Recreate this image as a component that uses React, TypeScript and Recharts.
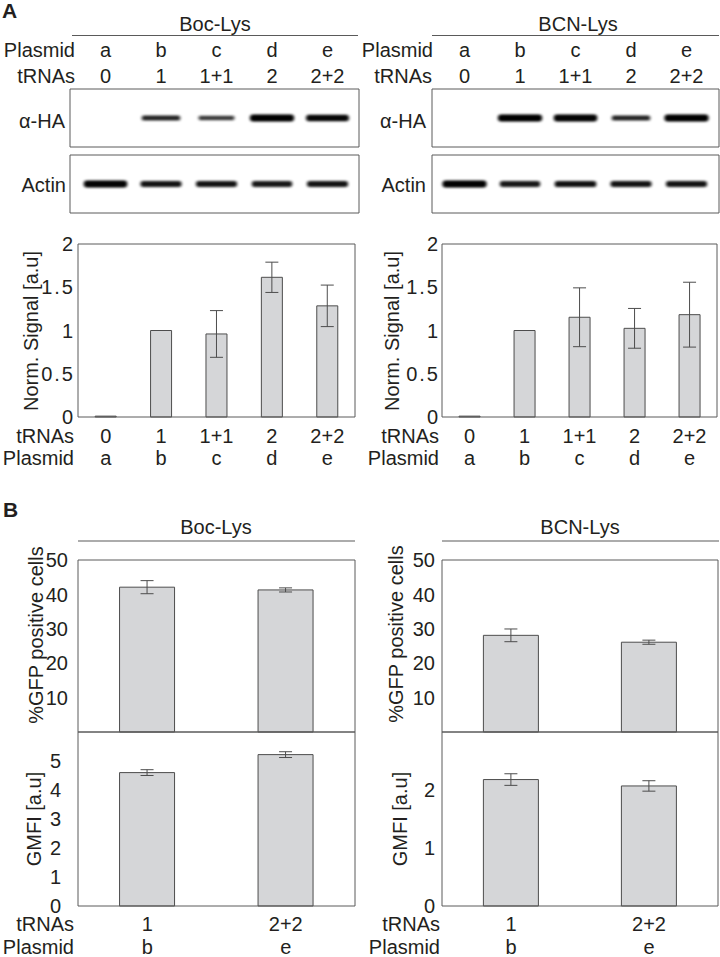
import React from 'react';
import { BarChart, Bar, XAxis, YAxis, ErrorBar, ComposedChart, Scatter } from 'recharts';

const FONT = '"Liberation Sans", Arial, Helvetica, sans-serif';
const TEXT = '#231f20';
const AXIS = '#5a5a5a';
const BAR_FILL = '#d5d6d8';
const BAR_STROKE = '#4d4d4d';

// ---------- Panel A ----------
const lanes = ['a', 'b', 'c', 'd', 'e'];
const laneTrnas = ['0', '1', '1+1', '2', '2+2'];
const bocHaSignal = [0, 0.55, 0.35, 1.0, 0.9];
const bocActinSignal = [0.95, 0.75, 0.75, 0.7, 0.75];
const bcnHaSignal = [0, 1.0, 0.95, 0.55, 1.0];
const bcnActinSignal = [1.0, 0.7, 0.8, 0.75, 0.75];

const bocNormSignal = [0.01, 1.0, 0.96, 1.615, 1.285];
const bocNormErr = [0, 0, 0.27, 0.175, 0.24];
const bcnNormSignal = [0.01, 1.0, 1.153, 1.025, 1.183];
const bcnNormErr = [0, 0, 0.34, 0.23, 0.375];
const normTicks = [0, 0.5, 1, 1.5, 2];

// ---------- Panel B ----------
const bLanes = ['b', 'e'];
const bTrnas = ['1', '2+2'];
const bocGfp = [42.1, 41.3];
const bocGfpErr = [1.9, 0.6];
const bcnGfp = [28.1, 26.1];
const bcnGfpErr = [1.85, 0.6];
const bocGmfi = [4.6, 5.22];
const bocGmfiErr = [0.1, 0.1];
const bcnGmfi = [2.18, 2.07];
const bcnGmfiErr = [0.1, 0.09];
const gfpTicks = [10, 20, 30, 40, 50];
const bocGmfiTicks = [0, 1, 2, 3, 4, 5];
const bcnGmfiTicks = [0, 1, 2];

const blotData = (signal: number[]) => lanes.map((l, i) => ({ lane: l, y: 1, signal: signal[i] }));
const barData = (cats: string[], vals: number[], errs: number[]) =>
  cats.map((c, i) => ({ lane: c, value: vals[i], err: errs[i] }));

const makeLaneTick = (cats: string[], trnas: string[], top: boolean, o1: number, o2: number) => (p: any) => {
  const idx = cats.indexOf(p.payload.value);
  const first = top ? cats[idx] : trnas[idx];
  const second = top ? trnas[idx] : cats[idx];
  return (
    <g>
      <text x={p.x} y={p.y + o1} textAnchor="middle" fontSize={20} fill={TEXT} fontFamily={FONT}>{first}</text>
      <text x={p.x} y={p.y + o2} textAnchor="middle" fontSize={20} fill={TEXT} fontFamily={FONT}>{second}</text>
    </g>
  );
};

const BandShape = (props: any) => {
  const { cx, cy, payload } = props;
  const s = payload ? payload.signal : 0;
  if (!s || cx == null) return <g />;
  const w = 34 + 12 * s;
  const h = 2.5 + 4 * s;
  return (
    <g filter="url(#blotBlur)">
      <rect x={cx - w / 2} y={cy - h / 2 - 0.5} width={w} height={h + 1} rx={(h + 1) / 2} fill="#000" opacity={0.25 + 0.3 * s} />
      <rect x={cx - w / 2 + 2} y={cy - h / 2} width={w - 4} height={h} rx={h / 2} fill="#000" opacity={0.45 + 0.55 * s} />
    </g>
  );
};

function Blot({ left, top, width, height, margin, padding, signal, labels }: any) {
  return (
    <div style={{ position: 'absolute', left, top }}>
      <ComposedChart width={width} height={height} data={blotData(signal)} margin={margin}>
        <XAxis dataKey="lane" padding={padding} mirror tick={false} tickLine={false} axisLine={{ stroke: AXIS }} height={1} />
        <XAxis xAxisId="top" orientation="top" mirror dataKey="lane" padding={padding}
          tick={labels ? makeLaneTick(lanes, laneTrnas, true, -32, -6) : false}
          tickLine={false} axisLine={{ stroke: AXIS }} height={1} interval={0} tickSize={0} tickMargin={0} />
        <YAxis type="number" domain={[0, 2]} mirror tick={false} tickLine={false} axisLine={{ stroke: AXIS }} width={1} />
        <YAxis yAxisId="r" orientation="right" mirror type="number" domain={[0, 2]} tick={false} tickLine={false} axisLine={{ stroke: AXIS }} width={1} />
        <Scatter dataKey="y" shape={BandShape} isAnimationActive={false} />
      </ComposedChart>
    </div>
  );
}

function BarPanel({ left, top, width, height, margin, data, domain, ticks, tickGap, gap, laneTick, nCat, spacing = 0 }: any) {
  const bounds = Array.from({ length: nCat - 1 }, (_, i) => i + 1);
  const yTick = { fontSize: 20, fill: TEXT, fontFamily: FONT, letterSpacing: spacing };
  return (
    <div style={{ position: 'absolute', left, top }}>
      <BarChart width={width} height={height} data={data} margin={margin} barCategoryGap={gap}>
        <XAxis dataKey="lane" mirror tick={laneTick || false} tickLine={false} axisLine={{ stroke: AXIS }}
          height={1} interval={0} tickSize={0} tickMargin={0} />
        <XAxis xAxisId="top" orientation="top" mirror dataKey="lane" tick={false} tickLine={false}
          axisLine={{ stroke: AXIS }} height={1} />
        <XAxis xAxisId="bt" type="number" domain={[0, nCat]} ticks={bounds} orientation="bottom" mirror
          height={1} tickSize={4} tick={false} axisLine={false} tickLine={{ stroke: AXIS }} allowDataOverflow />
        <XAxis xAxisId="tt" type="number" domain={[0, nCat]} ticks={bounds} orientation="top" mirror
          height={1} tickSize={4} tick={false} axisLine={false} tickLine={{ stroke: AXIS }} allowDataOverflow />
        <YAxis yAxisId="l" type="number" domain={domain} ticks={ticks} interval={0} tick={yTick}
          tickLine={false} tickSize={0} tickMargin={tickGap} axisLine={{ stroke: AXIS }} width={60} />
        <YAxis yAxisId="li" type="number" domain={domain} ticks={ticks} interval={0} mirror tickSize={4}
          tick={false} axisLine={false} tickLine={{ stroke: AXIS }} width={1} allowDataOverflow />
        <YAxis yAxisId="r" orientation="right" type="number" domain={domain} ticks={ticks} interval={0} mirror
          tickSize={4} tick={false} axisLine={{ stroke: AXIS }} tickLine={{ stroke: AXIS }} width={1} allowDataOverflow />
        <Bar yAxisId="l" dataKey="value" fill={BAR_FILL} stroke={BAR_STROKE} strokeWidth={1} isAnimationActive={false}>
          <ErrorBar dataKey="err" width={6.5} stroke={BAR_STROKE} strokeWidth={1} />
        </Bar>
      </BarChart>
    </div>
  );
}

const T = (props: any) => (
  <text fontSize={20} fill={TEXT} fontFamily={FONT} {...props} />
);

export default function App() {
  return (
    <div style={{ position: 'absolute', left: 0, top: 0, width: 720, height: 957, background: '#fff', overflow: 'hidden', fontFamily: FONT }}>
      <svg width={0} height={0} style={{ position: 'absolute' }}>
        <defs>
          <filter id="blotBlur" x="-20%" y="-150%" width="140%" height="400%">
            <feGaussianBlur stdDeviation="0.8" />
          </filter>
        </defs>
      </svg>

      {/* Panel A blots (lanes on a point scale, padded to the lane centres) */}
      <Blot left={0} top={0} width={362} height={150} margin={{ top: 89, right: 3, bottom: 3, left: 70 }}
        padding={{ left: 35.5, right: 31.5 }} signal={bocHaSignal} labels />
      <Blot left={0} top={150} width={362} height={66} margin={{ top: 5, right: 3, bottom: 3, left: 70 }}
        padding={{ left: 35.5, right: 31.5 }} signal={bocActinSignal} />
      <Blot left={360} top={0} width={360} height={150} margin={{ top: 89, right: 1, bottom: 3, left: 72 }}
        padding={{ left: 32.5, right: 32.5 }} signal={bcnHaSignal} labels />
      <Blot left={360} top={150} width={360} height={66} margin={{ top: 5, right: 1, bottom: 3, left: 72 }}
        padding={{ left: 32.5, right: 32.5 }} signal={bcnActinSignal} />

      {/* Panel A bar charts */}
      <BarPanel left={0} top={224} width={362} height={256} margin={{ top: 20, right: 7, bottom: 63, left: 18 }}
        data={barData(lanes, bocNormSignal, bocNormErr)} domain={[0, 2]} ticks={normTicks} tickGap={3} gap="31%"
        laneTick={makeLaneTick(lanes, laneTrnas, false, 26, 48)} nCat={5} spacing={2} />
      <BarPanel left={360} top={224} width={360} height={256} margin={{ top: 20, right: 3, bottom: 63, left: 22 }}
        data={barData(lanes, bcnNormSignal, bcnNormErr)} domain={[0, 2]} ticks={normTicks} tickGap={2} gap="31%"
        laneTick={makeLaneTick(lanes, laneTrnas, false, 26, 48)} nCat={5} spacing={2} />

      {/* Panel B bar charts */}
      <BarPanel left={0} top={540} width={362} height={200} margin={{ top: 20, right: 7, bottom: 8, left: 18 }}
        data={barData(bLanes, bocGfp, bocGfpErr)} domain={[0, 50]} ticks={gfpTicks} tickGap={10} gap="30%" nCat={2} />
      <BarPanel left={0} top={722} width={362} height={235} margin={{ top: 10, right: 7, bottom: 51, left: 18 }}
        data={barData(bLanes, bocGmfi, bocGmfiErr)} domain={[0, 6]} ticks={bocGmfiTicks} tickGap={17} gap="30%"
        laneTick={makeLaneTick(bLanes, bTrnas, false, 25, 48)} nCat={2} />
      <BarPanel left={360} top={540} width={360} height={200} margin={{ top: 20, right: 2, bottom: 8, left: 22 }}
        data={barData(bLanes, bcnGfp, bcnGfpErr)} domain={[0, 50]} ticks={gfpTicks} tickGap={7} gap="30%" nCat={2} />
      <BarPanel left={360} top={722} width={360} height={235} margin={{ top: 10, right: 2, bottom: 51, left: 22 }}
        data={barData(bLanes, bcnGmfi, bcnGmfiErr)} domain={[0, 3]} ticks={bcnGmfiTicks} tickGap={7} gap="30%"
        laneTick={makeLaneTick(bLanes, bTrnas, false, 25, 48)} nCat={2} />

      {/* Static text overlay */}
      <svg width={720} height={957} style={{ position: 'absolute', left: 0, top: 0, pointerEvents: 'none' }}>
        <T x={2} y={18} fontWeight="bold" fontSize={21}>A</T>
        <T x={3} y={517} fontWeight="bold" fontSize={21}>B</T>

        <T x={215} y={31} textAnchor="middle">Boc-Lys</T>
        <line x1={72} x2={358} y1={35.5} y2={35.5} stroke={AXIS} strokeWidth={1.2} />
        <T x={578} y={31} textAnchor="middle">BCN-Lys</T>
        <line x1={432} x2={719} y1={35.5} y2={35.5} stroke={AXIS} strokeWidth={1.2} />

        <T x={75} y={57} textAnchor="end">Plasmid</T>
        <T x={75} y={83} textAnchor="end">tRNAs</T>
        <T x={433} y={57} textAnchor="end">Plasmid</T>
        <T x={432} y={83} textAnchor="end">tRNAs</T>

        <T x={65} y={128} textAnchor="end">α-HA</T>
        <T x={66} y={192} textAnchor="end">Actin</T>
        <T x={426} y={128} textAnchor="end">α-HA</T>
        <T x={426} y={192} textAnchor="end">Actin</T>

        <T x={74} y={443} textAnchor="end">tRNAs</T>
        <T x={74} y={465} textAnchor="end">Plasmid</T>
        <T x={439} y={443} textAnchor="end">tRNAs</T>
        <T x={439} y={465} textAnchor="end">Plasmid</T>

        <T x={38} y={331} textAnchor="middle" transform="rotate(-90 38 331)">Norm. Signal [a.u]</T>
        <T x={399} y={331} textAnchor="middle" transform="rotate(-90 399 331)">Norm. Signal [a.u]</T>

        <T x={216} y={534} textAnchor="middle">Boc-Lys</T>
        <line x1={78} x2={355} y1={541} y2={541} stroke={AXIS} strokeWidth={1.2} />
        <T x={580} y={534} textAnchor="middle">BCN-Lys</T>
        <line x1={442} x2={719} y1={541} y2={541} stroke={AXIS} strokeWidth={1.2} />

        <T x={43} y={635} textAnchor="middle" transform="rotate(-90 43 635)">%GFP positive cells</T>
        <T x={403} y={634} textAnchor="middle" transform="rotate(-90 403 634)">%GFP positive cells</T>
        <T x={41} y={819} textAnchor="middle" transform="rotate(-90 41 819)">GMFI [a.u]</T>
        <T x={407} y={819} textAnchor="middle" transform="rotate(-90 407 819)">GMFI [a.u]</T>

        <T x={74} y={931} textAnchor="end">tRNAs</T>
        <T x={74} y={954} textAnchor="end">Plasmid</T>
        <T x={440} y={931} textAnchor="end">tRNAs</T>
        <T x={440} y={954} textAnchor="end">Plasmid</T>
      </svg>
    </div>
  );
}
